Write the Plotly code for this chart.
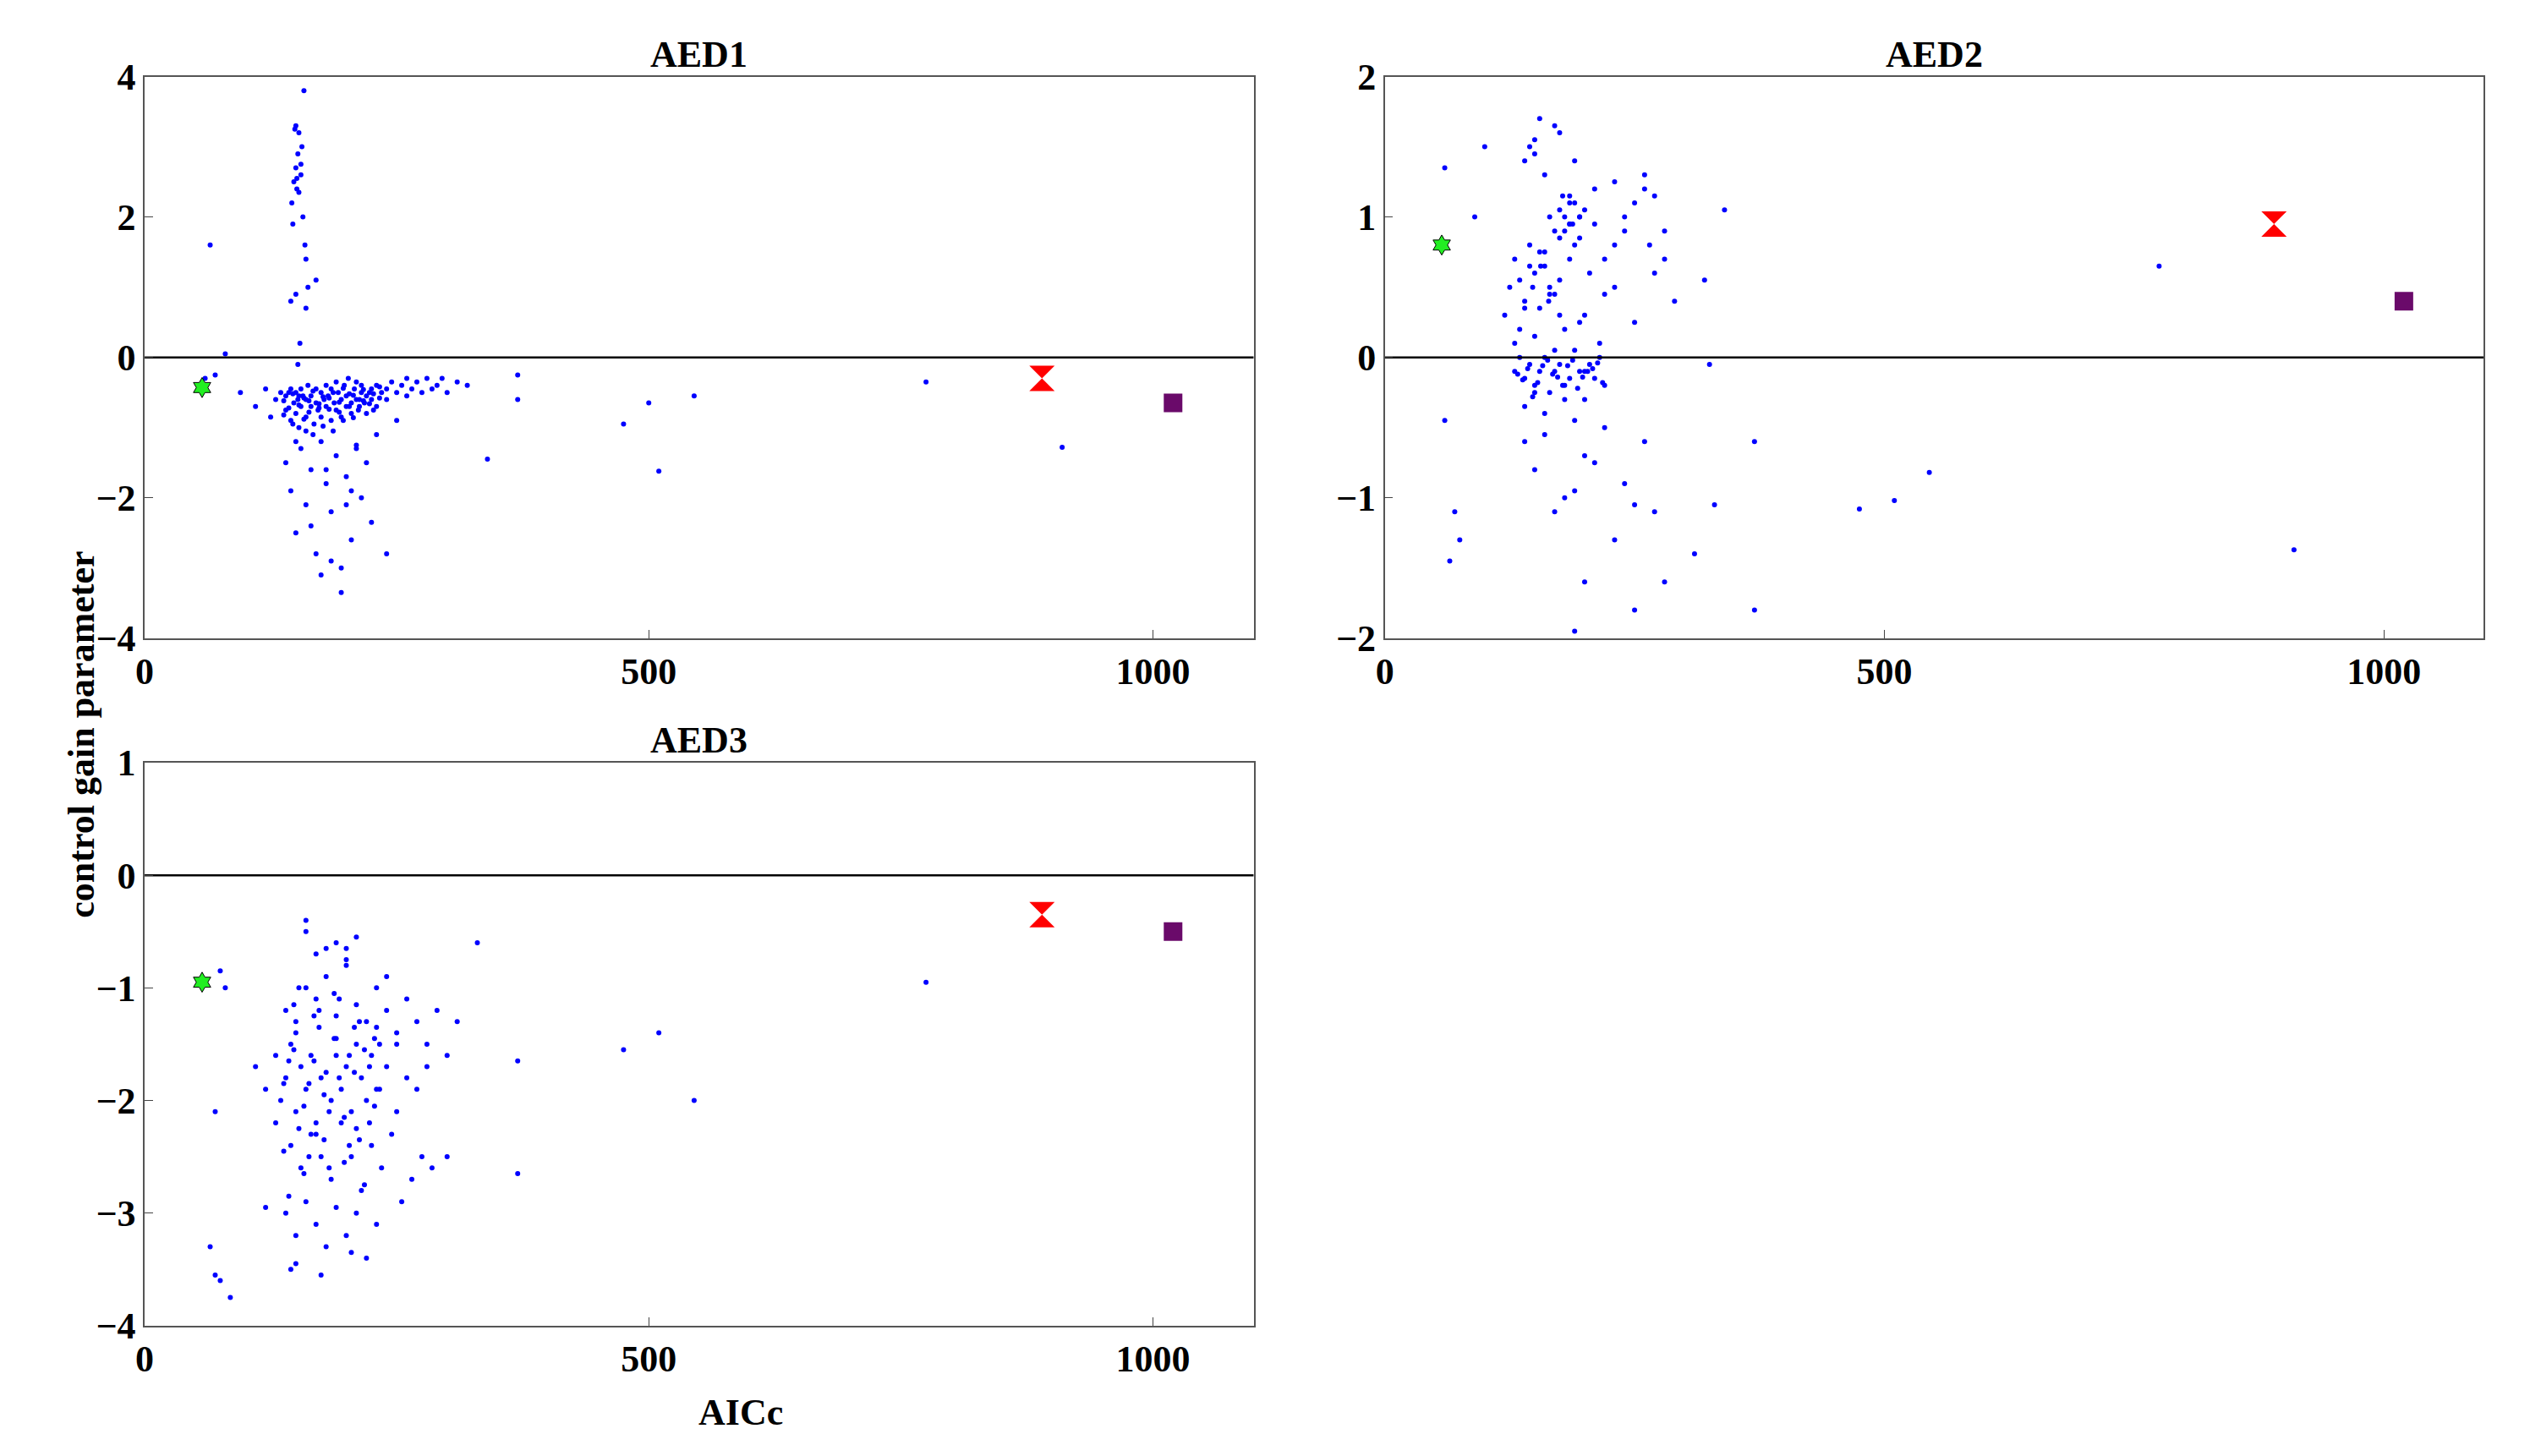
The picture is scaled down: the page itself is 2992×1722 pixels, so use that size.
import plotly.graph_objects as go
from plotly.subplots import make_subplots

# AED1 blue points (AICc, gain)
aed1_x = [65, 80, 60, 70, 95, 110, 120, 125, 130, 135, 140, 140, 145, 145, 148, 150, 150, 152, 153, 155,
          155, 157, 160, 160, 162, 165, 165, 168, 170, 170, 172, 175, 175, 178, 180, 180, 182, 185, 185, 188,
          190, 190, 192, 195, 195, 198, 200, 200, 202, 205, 205, 208, 210, 210, 212, 215, 215, 218, 220, 220,
          225, 225, 230, 230, 235, 240, 240, 245, 250, 250, 255, 260, 260, 265, 270, 275, 280, 285, 290, 295,
          300, 310, 320, 340, 370, 370, 475, 500, 510, 545, 775, 910,
          145, 147, 148, 150, 150, 151, 152, 153, 155, 157, 160, 160, 162, 158, 170,
          140, 145, 150, 155, 160, 165, 170, 175, 180, 185, 190, 195, 200, 205, 210, 215, 220, 225, 230, 240,
          175, 185, 195, 205, 165, 150, 160, 200, 210, 180,
          138, 143, 147, 153, 158, 163, 167, 173, 177, 183, 187, 193, 197, 203, 207, 213, 217, 223, 227, 233,
          138, 143, 147, 153, 158, 163, 167, 173, 177, 183, 187, 193, 197, 203, 207, 213, 217, 223, 227, 233,
          149, 151, 153, 155, 156, 159, 146, 150, 154, 152]
aed1_y = [1.6, 0.05, -0.3, -0.25, -0.5, -0.7, -0.45, -0.85, -0.6, -0.5, -0.75, -0.55, -0.9, -0.45, -0.65, -0.8, -0.5, -0.6, -1.0, -0.7,
          -0.45, -0.55, -0.85, -0.6, -0.4, -0.7, -0.55, -0.95, -0.65, -0.45, -0.75, -0.5, -0.85, -0.6, -0.4, -0.7, -0.55, -0.9, -0.45, -0.65,
          -0.35, -0.75, -0.5, -0.6, -0.85, -0.4, -0.7, -0.55, -0.3, -0.65, -0.8, -0.45, -0.6, -0.35, -0.75, -0.5, -0.4, -0.65, -0.55, -0.8,
          -0.45, -0.6, -0.4, -0.7, -0.5, -0.45, -0.6, -0.35, -0.5, -0.9, -0.4, -0.55, -0.3, -0.45, -0.35, -0.5, -0.3, -0.45, -0.4, -0.3,
          -0.5, -0.35, -0.4, -1.45, -0.25, -0.6, -0.95, -0.65, -1.62, -0.55, -0.35, -1.28,
          0.8, 1.9, 2.5, 3.3, 2.7, 2.4, 2.9, 3.2, 2.6, 2.0, 0.7, 1.4, 1.0, 3.8, 1.1,
          -1.5, -1.9, -2.5, -1.3, -2.1, -1.6, -2.8, -1.2, -1.8, -2.2, -1.4, -3.0, -1.7, -2.6, -1.3, -2.0, -1.5, -2.35, -1.1, -2.8,
          -3.1, -2.9, -3.35, -1.9, -2.4, -1.2, -1.05, -2.1, -1.25, -1.6,
          -0.62, -0.72, -0.52, -0.68, -0.58, -0.78, -0.48, -0.66, -0.56, -0.74, -0.5, -0.64, -0.44, -0.7, -0.54, -0.6, -0.46, -0.66, -0.52, -0.58,
          -0.82, -0.5, -0.95, -0.55, -0.88, -0.62, -1.1, -0.72, -0.98, -0.58, -1.05, -0.78, -0.9, -0.52, -0.86, -0.7, -0.62, -0.5, -0.75, -0.42,
          3.25, 2.55, 2.35, 2.75, 3.0, 1.6, 2.2, 0.9, 0.2, -0.1]

# AED2 blue points
aed2_x = [60, 60, 65, 70, 75, 100, 90, 340, 320, 325, 370, 370, 310, 330, 475, 510, 545, 775, 910, 190, 200, 250, 280, 230,
          130, 135, 140, 145, 150, 155, 160, 165, 170, 175, 180, 185, 190, 195, 200, 205, 210, 215, 220, 140, 150, 160, 170, 180, 190, 200,
          120, 125, 130, 135, 140, 145, 150, 155, 160, 165, 170, 175, 180, 185, 190, 195, 200, 205, 210, 220, 230, 240, 250, 260, 270, 280, 290,
          130, 140, 150, 160, 170, 180, 190, 200, 210, 220, 230, 240, 250, 260, 270, 280, 145, 155, 165, 175, 185, 195, 150, 170,
          140, 150, 160, 180, 200, 220, 240, 260, 170, 190, 210, 250, 270, 150, 230, 175, 160, 185, 215, 265,
          133, 143, 153, 163, 173, 183, 193, 203, 213, 138, 148, 158, 168, 178, 188, 198, 208, 218,
          135, 145, 155, 165, 175, 185, 195, 175, 180, 185, 190, 195, 178, 188, 140, 148, 156, 164]
aed2_y = [1.35, -0.45, -1.45, -1.1, -1.3, 1.5, 1.0, 1.05, 0.55, -0.05, -0.6, -1.8, -1.4, -1.05, -1.08, -1.02, -0.82, 0.65, -1.37, -1.95, -1.6, -1.8, -1.6, -1.3,
          -0.1, 0.0, -0.15, -0.05, -0.2, -0.1, 0.0, -0.25, -0.1, -0.05, -0.2, -0.15, 0.05, -0.1, -0.3, -0.05, -0.15, 0.0, -0.2, -0.35, -0.25, -0.4, 0.05, -0.3, -0.45, -0.1,
          0.3, 0.5, 0.7, 0.2, 0.4, 0.8, 0.6, 0.35, 0.75, 0.5, 0.9, 0.3, 1.0, 0.7, 1.1, 0.85, 1.05, 0.6, 0.95, 0.7, 0.5, 0.9, 1.1, 1.2, 0.6, 0.9, 0.4,
          0.1, 1.4, 1.55, 1.3, 1.65, 0.2, 1.4, 0.3, 1.2, 0.45, 0.8, 1.0, 0.25, 1.3, 1.15, 0.7, 1.5, 1.7, 1.0, 0.55, 1.15, 0.25, 0.15, 0.45,
          -0.6, -0.8, -0.55, -1.0, -0.7, -0.5, -0.9, -0.6, -1.1, -0.95, -0.75, -1.05, -1.1, 1.45, 1.25, 1.6, 0.65, 0.95, 0.1, 0.8,
          -0.12, -0.08, -0.18, -0.02, -0.14, -0.06, -0.22, -0.1, -0.04, -0.16, -0.28, -0.06, -0.12, -0.2, -0.02, -0.14, -0.08, -0.18,
          0.55, 0.65, 0.75, 0.45, 0.85, 0.95, 1.0, 1.05, 0.9, 1.1, 0.8, 1.0, 1.15, 0.95, 0.35, 0.5, 0.65, 0.4]

# AED3 blue points
aed3_x = [65, 70, 75, 85, 75, 80, 70, 330, 370, 370, 475, 510, 545, 775,
          110, 120, 130, 135, 140, 145, 150, 155, 160, 165, 170, 175, 180, 185, 190, 195, 200, 205, 210, 215, 220, 225, 230, 240, 250, 260,
          140, 150, 160, 170, 180, 190, 200, 210, 220, 230, 240, 250, 260, 270, 280, 290, 300, 310,
          145, 155, 165, 175, 185, 195, 205, 215, 225, 235, 245, 255, 265, 275, 285,
          140, 150, 160, 170, 180, 190, 200, 210, 220, 230, 150, 170, 190, 210, 160, 180, 200, 145, 175, 205,
          130, 150, 170, 190, 210, 230, 250, 270, 160, 200, 240, 280, 120, 300,
          138, 148, 158, 168, 178, 188, 198, 208, 218, 228, 143, 153, 163, 173, 183, 193, 203, 213, 223, 233,
          138, 148, 158, 168, 178, 188, 198, 208, 218, 228, 143, 153, 163, 173, 183, 193, 203, 213, 223, 233]
aed3_y = [-3.3, -3.55, -3.6, -3.75, -0.85, -1.0, -2.1, -0.6, -1.65, -2.65, -1.55, -1.4, -2.0, -0.95,
          -1.7, -1.9, -1.6, -2.0, -1.8, -1.5, -2.1, -1.7, -1.9, -1.6, -2.2, -1.8, -1.75, -2.0, -1.6, -1.9, -1.7, -2.1, -1.5, -1.8, -2.0, -1.6, -1.9, -1.7, -1.5, -1.8,
          -1.2, -1.3, -1.0, -1.1, -0.9, -1.25, -0.8, -1.15, -1.3, -1.0, -1.2, -1.4, -1.1, -1.3, -1.5, -1.2, -1.6, -1.3,
          -2.4, -2.6, -2.3, -2.5, -2.7, -2.2, -2.5, -2.8, -2.4, -2.6, -2.3, -2.9, -2.7, -2.5, -2.6,
          -3.0, -3.2, -2.9, -3.1, -3.3, -2.95, -3.2, -3.0, -3.4, -3.1, -3.45, -0.7, -0.6, -0.55, -0.5, -0.65, -0.75, -3.5, -3.55, -3.35,
          -2.2, -1.4, -2.3, -1.45, -2.25, -1.35, -2.1, -1.9, -0.4, -0.65, -0.9, -1.7, -2.95, -2.5,
          -1.85, -1.55, -2.05, -1.65, -1.95, -1.45, -2.15, -1.75, -1.55, -2.05, -1.65, -2.25, -1.85, -1.35, -2.1, -1.8, -1.6, -2.35, -1.7, -1.9,
          -2.45, -1.15, -2.65, -1.25, -2.35, -1.05, -2.55, -1.35, -2.75, -1.45, -2.85, -1.0, -2.5, -1.2, -2.6, -1.1, -2.4, -1.3, -2.2, -1.5]

# best-model markers per panel: green, red, purple
special_x = [57, 890, 1020]
aed1_special = [-0.43, -0.3, -0.65]
aed2_special = [0.8, 0.95, 0.4]
aed3_special = [-0.95, -0.35, -0.5]

titles = ["AED1", "AED2", "AED3"]
y_ranges = [[-4, 4], [-2, 2], [-4, 1]]
y_dtick = [2, 1, 1]

fig = make_subplots(rows=2, cols=2)
panels = [(aed1_x, aed1_y, aed1_special, 1, 1), (aed2_x, aed2_y, aed2_special, 1, 2),
          (aed3_x, aed3_y, aed3_special, 2, 1)]
domains_x = [[0.051, 0.491], [0.543, 0.979], [0.051, 0.491]]
domains_y = [[0.568, 0.965], [0.568, 0.965], [0.082, 0.480]]
font = dict(family="Liberation Serif", size=44, color="black")
tickfont = dict(family="Liberation Serif", size=44, color="black", weight="bold")

for i, (px, py, sp, r, c) in enumerate(panels):
    fig.add_trace(go.Scatter(x=px, y=py, mode="markers",
                             marker=dict(color="blue", size=6)), row=r, col=c)
    fig.add_trace(go.Scatter(x=[0, 1100], y=[0, 0], mode="lines",
                             line=dict(color="black", width=2.5)), row=r, col=c)
    fig.add_trace(go.Scatter(x=[special_x[1]], y=[sp[1]], mode="markers",
                             marker=dict(symbol="hourglass", color="red", size=30)), row=r, col=c)
    fig.add_trace(go.Scatter(x=[special_x[2]], y=[sp[2]], mode="markers",
                             marker=dict(symbol="square", color="#6a0a6a", size=22)), row=r, col=c)
    fig.add_trace(go.Scatter(x=[special_x[0]], y=[sp[0]], mode="markers",
                             marker=dict(symbol="hexagram", color="#22ee22", size=18,
                                         line=dict(color="black", width=1))), row=r, col=c)
    ax = "" if i == 0 else str(i + 1)
    fig.layout["xaxis" + ax].update(domain=domains_x[i])
    fig.layout["yaxis" + ax].update(domain=domains_y[i])
    fig.update_xaxes(range=[0, 1100], tickvals=[0, 500, 1000], row=r, col=c)
    fig.update_yaxes(range=y_ranges[i], dtick=y_dtick[i], row=r, col=c)
    fig.add_annotation(text="<b>%s</b>" % titles[i], xref="x%s domain" % ax, yref="y%s domain" % ax,
                       x=0.5, y=1.0, yanchor="bottom", showarrow=False, font=font)

fig.layout.xaxis4.update(visible=False)
fig.layout.yaxis4.update(visible=False)

fig.update_xaxes(showline=True, mirror=True, linecolor="#555", linewidth=1.5, ticks="inside",
                 ticklen=10, showgrid=False, zeroline=False, tickfont=tickfont)
fig.update_yaxes(showline=True, mirror=True, linecolor="#555", linewidth=1.5, ticks="inside",
                 ticklen=10, showgrid=False, zeroline=False, tickfont=tickfont)

fig.add_annotation(text="<b>control gain parameter</b>", xref="paper", yref="paper", x=0.017, y=0.5,
                   textangle=-90, showarrow=False, font=font)
fig.add_annotation(text="<b>AICc</b>", xref="paper", yref="paper", x=0.27, y=0.005,
                   showarrow=False, font=font)

fig.update_layout(width=2992, height=1722, showlegend=False, plot_bgcolor="white",
                  paper_bgcolor="white", margin=dict(l=0, r=0, t=0, b=0))
fig.write_html("out.html")
